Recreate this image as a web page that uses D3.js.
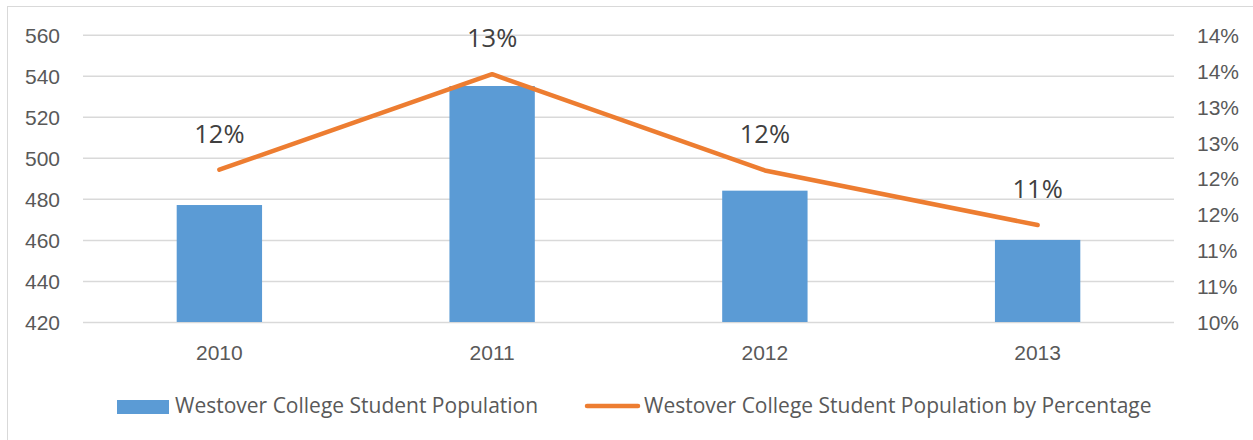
<!DOCTYPE html>
<html>
<head>
<meta charset="utf-8">
<script src="https://cdn.jsdelivr.net/npm/d3@7"></script>
<style>
  html, body { margin: 0; padding: 0; background: #fff; }
  svg { display: block; font-family: "Open Sans", sans-serif; }
</style>
</head>
<body>
<div id="chart"></div>
<script>
// chart values
var years = ['2010', '2011', '2012', '2013'];
var population = [477, 535, 484, 460];
var percentage = [0.1212, 0.1345, 0.1211, 0.1135];
var percentLabels = ['12%', '13%', '12%', '11%'];
var leftTicks = [420, 440, 460, 480, 500, 520, 540, 560];
var rightTicks = [0.10, 0.105, 0.11, 0.115, 0.12, 0.125, 0.13, 0.135, 0.14];
var rightTickLabels = ['10%', '11%', '11%', '12%', '12%', '13%', '13%', '14%', '14%'];
var seriesNames = ['Westover College Student Population', 'Westover College Student Population by Percentage'];

var W = 1253, H = 440;
var plot = { left: 83, right: 1174, top: 34.7, bottom: 322 };
var fontSize = '21px';

var svg = d3.select('#chart').append('svg')
    .attr('width', W)
    .attr('height', H);

// outer chart border (runs off the right and bottom of the picture)
svg.append('rect')
    .attr('x', 7.5).attr('y', 6.5)
    .attr('width', W + 10).attr('height', H + 10)
    .attr('fill', '#fff')
    .attr('stroke', '#d9d9d9')
    .attr('stroke-width', 1);

var x = d3.scaleBand()
    .domain(years)
    .range([plot.left, plot.right])
    .paddingInner(0.687)
    .paddingOuter(0.3435);

var yLeft = d3.scaleLinear().domain([420, 560]).range([plot.bottom, plot.top]);
var yRight = d3.scaleLinear().domain([0.10, 0.14]).range([plot.bottom, plot.top]);

// gridlines
var grid = svg.append('g')
    .attr('transform', 'translate(' + plot.left + ',0)')
    .call(d3.axisLeft(yLeft).tickValues(leftTicks).tickSize(-(plot.right - plot.left)).tickFormat(''));
grid.select('.domain').remove();
grid.selectAll('line')
    .attr('stroke', '#d9d9d9')
    .attr('stroke-width', 1.5);

// left axis
var gl = svg.append('g')
    .attr('transform', 'translate(60,0)')
    .call(d3.axisLeft(yLeft).tickValues(leftTicks).tickSize(0).tickPadding(0));
gl.select('.domain').remove();
gl.selectAll('text')
    .attr('fill', '#595959')
    .style('font-size', fontSize)
    .attr('dy', '0.36em');

// right axis
var gr = svg.append('g')
    .attr('transform', 'translate(1197,0)')
    .call(d3.axisRight(yRight).tickValues(rightTicks).tickSize(0).tickPadding(0)
        .tickFormat(function (d, i) { return rightTickLabels[i]; }));
gr.select('.domain').remove();
gr.selectAll('text')
    .attr('fill', '#595959')
    .style('font-size', fontSize)
    .attr('dy', '0.36em');

// x axis labels
var gx = svg.append('g')
    .attr('transform', 'translate(0,' + plot.bottom + ')')
    .call(d3.axisBottom(x).tickSize(0).tickPadding(0));
gx.select('.domain').remove();
gx.selectAll('text')
    .attr('fill', '#595959')
    .style('font-size', fontSize)
    .attr('dy', '0')
    .attr('y', 38);

// bars
svg.append('g').selectAll('rect')
    .data(years)
    .enter()
    .append('rect')
    .attr('x', function (d) { return x(d); })
    .attr('width', x.bandwidth())
    .attr('y', function (d, i) { return yLeft(population[i]); })
    .attr('height', function (d, i) { return yLeft(420) - yLeft(population[i]); })
    .attr('fill', '#5b9bd5');

// line
var line = d3.line()
    .x(function (d, i) { return x(years[i]) + x.bandwidth() / 2; })
    .y(function (d) { return yRight(d); });

svg.append('path')
    .attr('d', line(percentage))
    .attr('fill', 'none')
    .attr('stroke', '#ed7d31')
    .attr('stroke-width', 4.5)
    .attr('stroke-linecap', 'round')
    .attr('stroke-linejoin', 'round');

// data labels
svg.append('g').selectAll('text')
    .data(percentage)
    .enter()
    .append('text')
    .attr('x', function (d, i) { return x(years[i]) + x.bandwidth() / 2; })
    .attr('y', function (d) { return yRight(d) - 27; })
    .attr('text-anchor', 'middle')
    .attr('fill', '#404040')
    .style('font-size', '25.5px')
    .text(function (d, i) { return percentLabels[i]; });

// legend
var legend = svg.append('g');
legend.append('rect')
    .attr('x', 117).attr('y', 400)
    .attr('width', 52).attr('height', 14)
    .attr('fill', '#5b9bd5');
legend.append('text')
    .attr('x', 175).attr('y', 413)
    .attr('fill', '#595959')
    .style('font-size', fontSize)
    .text(seriesNames[0]);
legend.append('line')
    .attr('x1', 587).attr('x2', 638)
    .attr('y1', 406).attr('y2', 406)
    .attr('stroke', '#ed7d31')
    .attr('stroke-width', 4.5)
    .attr('stroke-linecap', 'round');
legend.append('text')
    .attr('x', 644).attr('y', 413)
    .attr('fill', '#595959')
    .style('font-size', fontSize)
    .text(seriesNames[1]);
</script>
</body>
</html>
